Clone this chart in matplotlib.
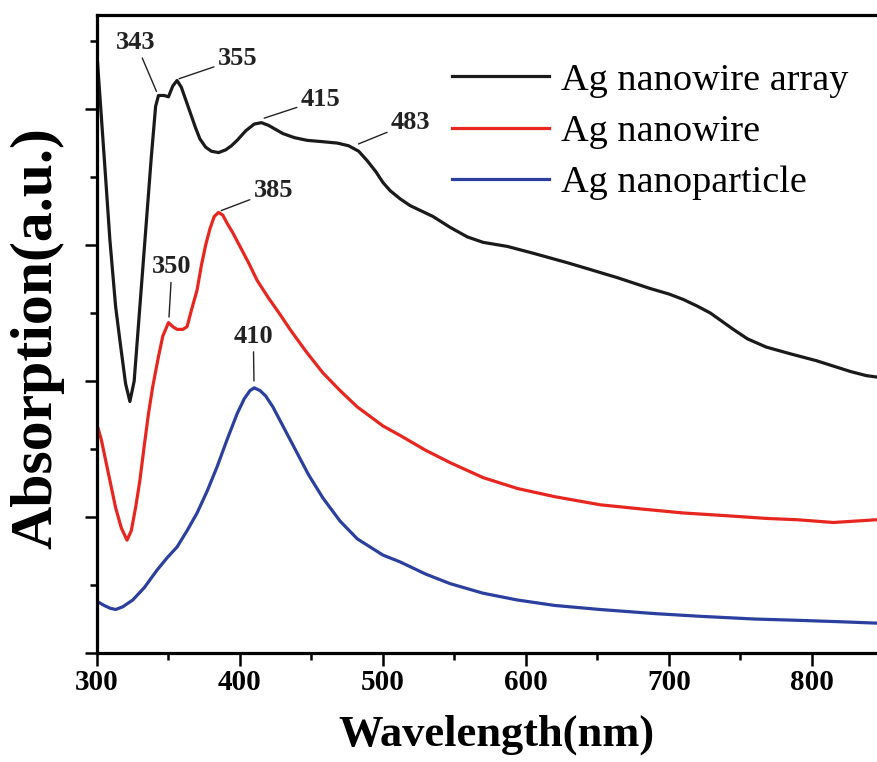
import matplotlib
matplotlib.use("Agg")
import matplotlib.pyplot as plt
from matplotlib.ticker import MultipleLocator

plt.rcParams['font.family'] = ['Liberation Serif', 'DejaVu Serif']

# ---------------------------------------------------------------
# data (wavelength in nm, absorption a.u.)
# ---------------------------------------------------------------
wl_array = [300, 302, 306, 309, 313, 316, 320, 323, 326, 330, 334, 338, 341, 343,
            347, 350, 353, 356, 359, 362, 365, 369, 372, 376, 380, 385, 390, 394,
            398, 404, 410, 415, 420, 425, 430, 438, 447, 458, 468, 476, 483, 489,
            495, 500, 505, 512, 519, 527, 535, 547, 559, 570, 587, 605, 629, 645,
            664, 687, 700, 710, 720, 729, 737, 745, 755, 768, 785, 803, 815, 827,
            838, 845]
abs_array = [4.40, 4.10, 3.50, 3.04, 2.55, 2.30, 1.98, 1.85, 2.00, 2.55, 3.10, 3.65,
             4.02, 4.10, 4.10, 4.09, 4.17, 4.21, 4.16, 4.07, 3.98, 3.86, 3.78, 3.72,
             3.69, 3.68, 3.70, 3.73, 3.77, 3.84, 3.89, 3.90, 3.88, 3.85, 3.82, 3.79,
             3.77, 3.76, 3.75, 3.73, 3.69, 3.62, 3.54, 3.46, 3.40, 3.34, 3.29, 3.25,
             3.21, 3.13, 3.06, 3.02, 2.99, 2.94, 2.87, 2.82, 2.76, 2.68, 2.64, 2.60,
             2.55, 2.50, 2.44, 2.38, 2.31, 2.25, 2.20, 2.15, 2.11, 2.07, 2.04, 2.03]

wl_wire = [300, 303, 306, 309, 313, 317, 321, 324, 327, 330, 333, 336, 339, 343,
           346, 350, 353, 356, 360, 363, 366, 370, 373, 376, 379, 382, 385, 388,
           391, 395, 400, 406, 412, 420, 428, 435, 446, 458, 470, 482, 500, 512,
           530, 547, 570, 594, 620, 652, 680, 710, 740, 768, 790, 815, 830, 845]
abs_wire = [1.68, 1.57, 1.42, 1.27, 1.07, 0.92, 0.83, 0.90, 1.07, 1.27, 1.52, 1.76,
            1.96, 2.18, 2.33, 2.43, 2.40, 2.38, 2.38, 2.40, 2.52, 2.67, 2.85, 3.00,
            3.12, 3.21, 3.24, 3.22, 3.16, 3.09, 2.99, 2.87, 2.74, 2.61, 2.49, 2.38,
            2.22, 2.06, 1.93, 1.81, 1.67, 1.60, 1.49, 1.40, 1.29, 1.21, 1.15, 1.09,
            1.06, 1.03, 1.01, 0.99, 0.98, 0.96, 0.97, 0.98]

wl_particle = [300, 305, 309, 313, 318, 325, 333, 342, 349, 356, 363, 370, 377, 384,
               391, 398, 403, 407, 410, 414, 418, 423, 430, 440, 448, 458, 470, 482,
               500, 512, 530, 547, 570, 594, 620, 652, 690, 722, 760, 792, 820, 845]
abs_particle = [0.38, 0.35, 0.33, 0.32, 0.34, 0.39, 0.48, 0.61, 0.70, 0.78, 0.90,
                1.03, 1.19, 1.37, 1.57, 1.76, 1.87, 1.93, 1.95, 1.93, 1.89, 1.81,
                1.67, 1.47, 1.31, 1.14, 0.97, 0.84, 0.72, 0.67, 0.58, 0.51, 0.44,
                0.39, 0.35, 0.32, 0.29, 0.27, 0.25, 0.24, 0.23, 0.22]

labels = ["Ag nanowire array", "Ag nanowire", "Ag nanoparticle"]
colors = ["#1a1a1a", "#e6261f", "#2b3f9e"]

# peak labels: text, point on curve, text position
peak_labels = ["343", "355", "415", "483", "385", "350", "410"]
peak_xy = [(342, 4.12), (356.5, 4.22), (416, 3.93), (482, 3.74),
           (386, 3.25), (350.3, 2.46), (409.8, 1.99)]
peak_text = [(327, 4.49), (398.5, 4.37), (456.5, 4.07), (519.5, 3.90),
             (423.5, 3.40), (352.4, 2.84), (409.3, 2.33)]

#===============================================================
# plot
#===============================================================
fig = plt.figure(figsize=(8.77, 7.62), dpi=100)
ax = fig.add_axes([0.1106, 0.143, 0.8894, 0.837])

ax.plot(wl_array, abs_array, color=colors[0], lw=2.3, label=labels[0])
ax.plot(wl_wire, abs_wire, color=colors[1], lw=2.3, label=labels[1])
ax.plot(wl_particle, abs_particle, color=colors[2], lw=2.3, label=labels[2])

for txt, xy, xyt in zip(peak_labels, peak_xy, peak_text):
    ax.annotate(txt, xy=xy, xytext=xyt, ha="center", va="center",
                fontsize=19, fontweight="bold", color="#222222",
                arrowprops=dict(arrowstyle="-", lw=1.0, color="#222222",
                                shrinkA=1, shrinkB=1))

ax.set_xlim(300, 845.5)
ax.set_ylim(0, 4.69)

ax.xaxis.set_major_locator(MultipleLocator(100))
ax.xaxis.set_minor_locator(MultipleLocator(50))
ax.yaxis.set_major_locator(MultipleLocator(1))
ax.yaxis.set_minor_locator(MultipleLocator(0.5))

ax.tick_params(which="major", direction="out", length=9, width=1.8, pad=2.5,
               labelsize=21)
ax.tick_params(which="minor", direction="out", length=5, width=1.8)
ax.tick_params(axis="y", which="both", labelleft=False)
for lab in ax.get_xticklabels():
    lab.set_fontweight("bold")

for side in ["left", "bottom", "top"]:
    ax.spines[side].set_linewidth(2.3)
ax.spines["right"].set_visible(False)

ax.set_xlabel("Wavelength(nm)", fontsize=32, fontweight="bold")
ax.xaxis.set_label_coords(0.512, -0.097)
ax.xaxis.label.set_va("top")
ax.set_ylabel("Absorption(a.u.)", fontsize=43, fontweight="bold")
ax.yaxis.set_label_coords(-0.042, 0.494)

ax.legend(loc="upper left", bbox_to_anchor=(0.455, 0.925), frameon=False,
          fontsize=27.5, handlelength=2.55, handletextpad=0.3,
          labelspacing=0.43, borderaxespad=0, borderpad=0)

fig.savefig("out.png", dpi=100)
